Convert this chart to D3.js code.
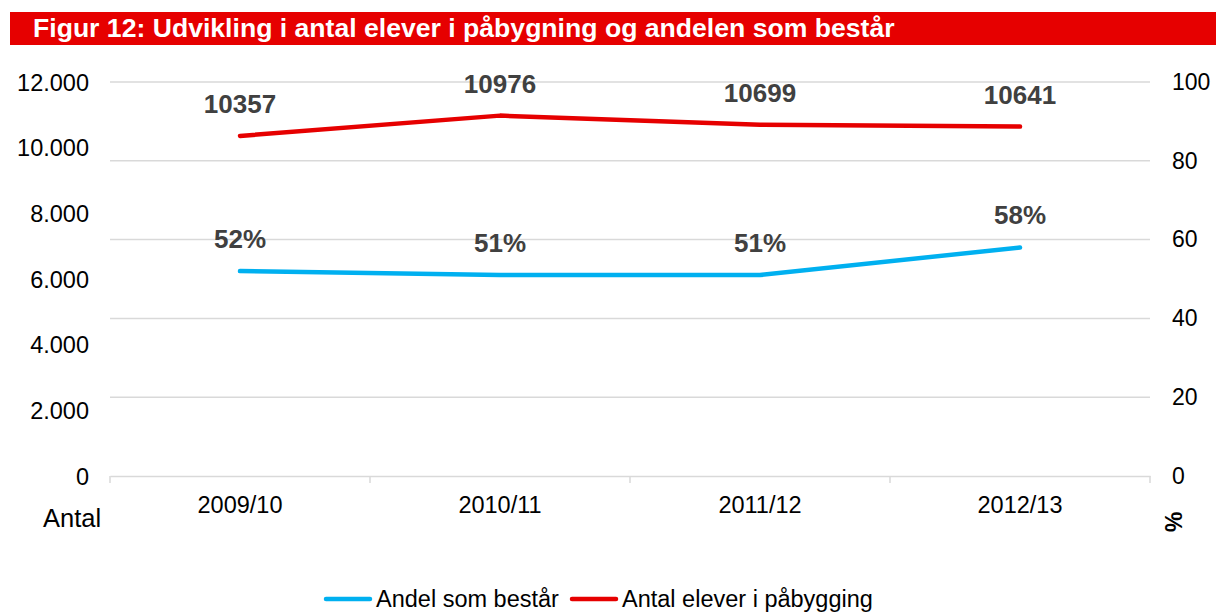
<!DOCTYPE html>
<html><head><meta charset="utf-8">
<script src="https://cdn.jsdelivr.net/npm/d3@7"></script>
<style>body{margin:0;background:#fff}svg{display:block;font-family:"Liberation Sans",Arial,sans-serif}</style>
</head><body><svg id="c" width="1216" height="612"></svg>
<script>
const title = "Figur 12: Udvikling i antal elever i påbygning og andelen som består";
const categories = ["2009/10","2010/11","2011/12","2012/13"];
const antalElever = [10357,10976,10699,10641];
const andelBestaar = [52,51,51,58];
const leftTicks = [0,2000,4000,6000,8000,10000,12000];
const rightTicks = [0,20,40,60,80,100];
const seriesNames = ["Andel som består","Antal elever i påbygging"];
const colors = {blue:"#00B0F0", red:"#E60000"};

const svg = d3.select("#c");
// title bar
svg.append("rect").attr("x",10).attr("y",12).attr("width",1206).attr("height",33).attr("fill","#E60000");
const tt = svg.append("text").attr("x",33).attr("y",37).attr("fill","#fff").attr("font-weight","bold").attr("font-size",22).text(title);
const tw = tt.node().getComputedTextLength();
tt.attr("font-size", 22*862/tw);

const x = d3.scaleBand().domain(categories).range([110,1150]);
const yL = d3.scaleLinear().domain([0,12000]).range([476,82]);
const yR = d3.scaleLinear().domain([0,100]).range([476,82]);

// gridlines
svg.append("g").selectAll("line").data(rightTicks.filter(d=>d>0)).join("line")
  .attr("x1",110).attr("x2",1150).attr("y1",d=>yR(d)).attr("y2",d=>yR(d))
  .attr("stroke","#d9d9d9").attr("stroke-width",1.5);

// x axis
const xa = svg.append("g").attr("transform","translate(0,476)")
  .call(d3.axisBottom(x).tickSize(0).tickPadding(0).tickFormat(""));
xa.select(".domain").attr("stroke","#d9d9d9").attr("stroke-width",1.5);
const bounds = categories.map(c=>x(c)).concat([x.range()[1]]);
svg.append("g").selectAll("line").data(bounds).join("line")
  .attr("x1",d=>d).attr("x2",d=>d).attr("y1",476).attr("y2",483)
  .attr("stroke","#d9d9d9").attr("stroke-width",1.5);
svg.append("g").selectAll("text").data(categories).join("text")
  .attr("x",d=>x(d)+x.bandwidth()/2).attr("y",513).attr("text-anchor","middle")
  .attr("font-size",23.5).attr("fill","#000").text(d=>d);

// left axis
const la = svg.append("g").attr("transform","translate(89,0)")
  .call(d3.axisLeft(yL).tickValues(leftTicks).tickSize(0).tickPadding(0)
    .tickFormat(d=>d3.format(",")(d).replace(/,/g,".")));
la.select(".domain").remove();
la.selectAll("text").attr("font-size",23.5).attr("fill","#000").attr("font-family","Liberation Sans, Arial, sans-serif");
la.selectAll(".tick").attr("transform",d=>`translate(0,${yL(d)+1})`);

// right axis
const ra = svg.append("g").attr("transform","translate(1172,0)")
  .call(d3.axisRight(yR).tickValues(rightTicks).tickSize(0).tickPadding(0));
ra.select(".domain").remove();
ra.selectAll("text").attr("font-size",23).attr("fill","#000").attr("font-family","Liberation Sans, Arial, sans-serif");

// axis titles
svg.append("text").attr("x",43).attr("y",527).attr("font-size",25.5).attr("fill","#000").text("Antal");
svg.append("text").attr("transform","translate(1173,522) rotate(90)").attr("text-anchor","middle")
  .attr("dy","0.35em").attr("font-size",23).attr("font-weight","bold").attr("fill","#000").text("%");

const cx = d => x(d)+x.bandwidth()/2;
// lines
const lineR = d3.line().x((d,i)=>cx(categories[i])).y(d=>yL(d));
const lineB = d3.line().x((d,i)=>cx(categories[i])).y(d=>yR(d));
svg.append("path").datum(andelBestaar).attr("d",lineB).attr("fill","none")
  .attr("stroke",colors.blue).attr("stroke-width",4.5).attr("stroke-linecap","round").attr("stroke-linejoin","round");
svg.append("path").datum(antalElever).attr("d",lineR).attr("fill","none")
  .attr("stroke",colors.red).attr("stroke-width",4.5).attr("stroke-linecap","round").attr("stroke-linejoin","round");

// data labels
svg.append("g").selectAll("text").data(antalElever).join("text")
  .attr("x",(d,i)=>cx(categories[i])).attr("y",d=>yL(d)-23).attr("text-anchor","middle")
  .attr("font-weight","bold").attr("font-size",26).attr("fill","#404040").text(d=>d);
svg.append("g").selectAll("text").data(andelBestaar).join("text")
  .attr("x",(d,i)=>cx(categories[i])).attr("y",d=>yR(d)-23).attr("text-anchor","middle")
  .attr("font-weight","bold").attr("font-size",26).attr("fill","#404040").text(d=>d+"%");

// legend
const leg = [{name:seriesNames[0],color:colors.blue,x0:324},{name:seriesNames[1],color:colors.red,x0:570}];
const lg = svg.append("g").selectAll("g").data(leg).join("g");
lg.append("line").attr("x1",d=>d.x0+2).attr("x2",d=>d.x0+46).attr("y1",599).attr("y2",599)
  .attr("stroke",d=>d.color).attr("stroke-width",4.5).attr("stroke-linecap","round");
lg.append("text").attr("x",d=>d.x0+52).attr("y",607).attr("font-size",23.5).attr("fill","#000").text(d=>d.name);
</script></body></html>
